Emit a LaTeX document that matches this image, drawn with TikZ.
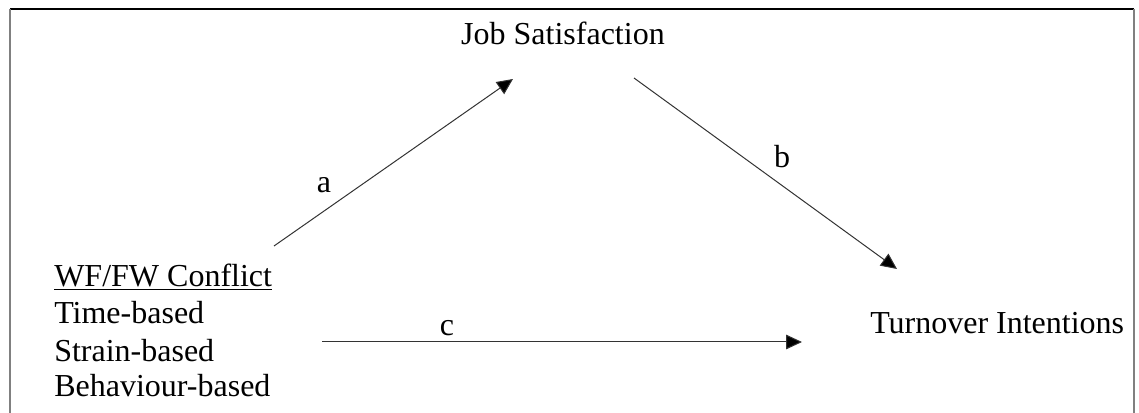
\documentclass[tikz,border=0pt]{standalone}
\usepackage{fontspec}
\setmainfont{Liberation Serif}
\usetikzlibrary{arrows.meta}
\begin{document}
\begin{tikzpicture}[x=0.75pt,y=-0.75pt,
  lbl/.style={font=\fontsize{24}{27.5}\selectfont, inner sep=0pt},
  conn/.style={line width=0.75pt, draw=black!80, -{Triangle[length=12pt,width=11pt,fill=black]}},
  frametop/.style={line width=1.5pt, draw=black},
  frameside/.style={line width=1.5pt, draw=black!50}]
\useasboundingbox (0,0) rectangle (1139,413);
% frame
\draw[frametop] (10,9) -- (1134,9);
\draw[frameside] (10,9) -- (10,413);
\draw[frameside] (1134,9) -- (1134,413);
% texts
\node[lbl, anchor=base] (js) at (563,45) {Job Satisfaction};
\node[lbl, anchor=base west] (ti) at (870,334) {Turnover Intentions};
\node[lbl, anchor=base west] (wf) at (54,287) {\underline{WF/FW Conflict}};
\node[lbl, anchor=base west] (tb) at (54,324) {Time-based};
\node[lbl, anchor=base west] (sb) at (54,361) {Strain-based};
\node[lbl, anchor=base west] (bb) at (54,397) {Behaviour-based};
\node[lbl, anchor=base] (la) at (324,193) {a};
\node[lbl, anchor=base] (lb) at (782,168) {b};
\node[lbl, anchor=base] (lc) at (447,335) {c};
% connector end points
\coordinate (a0) at (274,246);
\coordinate (a1) at (513,79);
\coordinate (b0) at (634,78);
\coordinate (b1) at (897,269);
\coordinate (c0) at (322,342);
\coordinate (c1) at (802,342);
\draw[conn] (a0) -- (a1);
\draw[conn] (b0) -- (b1);
\draw[conn] (c0) -- (c1);
\end{tikzpicture}
\end{document}
